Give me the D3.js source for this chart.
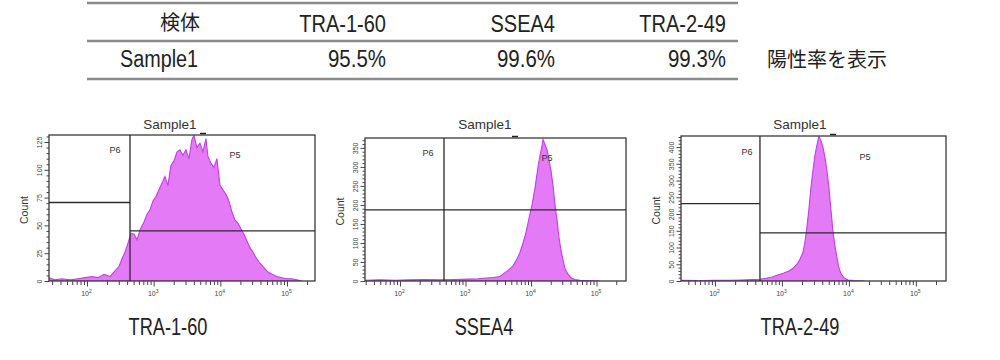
<!DOCTYPE html>
<html>
<head>
<meta charset="utf-8">
<script src="https://cdn.jsdelivr.net/npm/d3@7"></script>
<style>
  html, body { margin: 0; padding: 0; background: #fff; }
  svg { display: block; }
</style>
</head>
<body>
<svg id="chart" width="1000" height="360"></svg>
<script>
// ---------------- DATA ----------------
const headerCols = ["検体", "TRA-1-60", "SSEA4", "TRA-2-49"];
const sampleRow = ["Sample1", "95.5%", "99.6%", "99.3%"];
const noteText = "陽性率を表示";
const markerNames = ["TRA-1-60", "SSEA4", "TRA-2-49"];
const panelTitle = "Sample1";
const gateNames = ["P6", "P5"];

// TRA-1-60 histogram (log10 fluorescence, count)
const tra160Log = [1.430,1.520,1.625,1.745,1.865,1.970,2.075,2.165,2.255,2.345,2.420,2.480,2.525,2.570,2.615,2.660,2.705,2.750,2.795,2.855,2.900,2.945,2.990,3.034,3.079,3.124,3.169,3.214,3.259,3.304,3.349,3.394,3.439,3.484,3.529,3.574,3.604,3.649,3.694,3.739,3.784,3.814,3.859,3.904,3.949,3.994,4.039,4.084,4.129,4.174,4.219,4.264,4.309,4.354,4.399,4.444,4.489,4.534,4.594,4.654,4.714,4.774,4.849,4.924,4.999,5.073,5.148,5.223];
const tra160Count = [3,1,2,1,2,3,4,3,6,4,9,13,20,26,34,43,42,37,46,53,60,64,72,76,82,88,94,86,104,108,116,118,113,118,110,127,131,120,124,116,128,112,106,102,110,86,82,78,72,62,55,52,47,42,36,30,26,21,16,12,8,6,4,3,2,2,1,0];

// SSEA4 histogram
const ssea4Log = [1.466,1.695,1.924,2.153,2.382,2.611,2.840,3.038,3.191,3.313,3.420,3.527,3.603,3.664,3.725,3.786,3.832,3.878,3.924,3.969,4.015,4.061,4.107,4.137,4.168,4.183,4.214,4.244,4.275,4.305,4.336,4.366,4.397,4.427,4.458,4.489,4.519,4.565,4.611,4.672,4.748,4.870,5.053];
const ssea4Count = [2,3,2,3,4,3,4,5,6,8,9,12,22,30,40,58,75,100,128,165,200,245,300,330,355,372,360,345,318,290,250,200,160,115,80,55,32,18,8,4,2,1,0];

// TRA-2-49 histogram
const tra249Log = [1.493,1.776,2.000,2.224,2.403,2.552,2.672,2.761,2.851,2.940,3.030,3.104,3.164,3.224,3.269,3.313,3.343,3.373,3.403,3.433,3.463,3.493,3.522,3.552,3.582,3.612,3.642,3.672,3.701,3.731,3.761,3.791,3.821,3.851,3.881,3.925,3.985,4.090,4.239];
const tra249Count = [2,1,2,2,3,4,5,8,12,18,24,30,38,50,65,85,115,160,215,280,330,375,405,432,420,400,370,330,280,215,150,105,70,40,22,10,3,1,0];

// axis ticks
const tra160YTicks = [0,25,50,75,100,125];
const ssea4YTicks = [0,50,100,150,200,250,300,350];
const tra249YTicks = [0,50,100,150,200,250,300,350,400];
const xDecades = [2,3,4,5];

// gates: threshold (log10), P6 level, P5 level
const tra160Gate = [2.645, 70.6, 45];
const ssea4Gate = [2.672, 187, 187];
const tra249Gate = [2.672, 231, 144];

// ---------------- LAYOUT ----------------
const svg = d3.select("#chart");
const latin = "'Liberation Sans', Arial, sans-serif";
const cjk = "'Noto Sans CJK JP', 'Noto Sans CJK SC', sans-serif";
const textCol = "#222";

function squeeze(sel, factor) {
  sel.each(function() {
    const w = this.getComputedTextLength();
    d3.select(this).attr("textLength", w * factor).attr("lengthAdjust", "spacingAndGlyphs");
  });
}

// ---- table ----
const tableLines = [3, 41, 79];
svg.selectAll("line.tbl").data(tableLines).enter().append("line")
  .attr("x1", 87).attr("x2", 738).attr("y1", d => d).attr("y2", d => d)
  .attr("stroke", "#8a8a8a").attr("stroke-width", 2.5);

const colRight = [null, 386, 555, 726];
// header
svg.append("text").attr("x", 180).attr("y", 30).attr("text-anchor", "middle")
  .attr("font-family", cjk).attr("font-size", 20).attr("fill", textCol).text(headerCols[0]);
headerCols.slice(1).forEach((t, i) => {
  svg.append("text").attr("x", colRight[i + 1]).attr("y", 32).attr("text-anchor", "end")
    .attr("font-family", latin).attr("font-size", 23).attr("fill", textCol).text(t)
    .call(squeeze, 0.87);
});
// row
svg.append("text").attr("x", 120).attr("y", 67).attr("text-anchor", "start")
  .attr("font-family", latin).attr("font-size", 23).attr("fill", textCol).text(sampleRow[0])
  .call(squeeze, 0.86);
sampleRow.slice(1).forEach((t, i) => {
  svg.append("text").attr("x", colRight[i + 1]).attr("y", 67).attr("text-anchor", "end")
    .attr("font-family", latin).attr("font-size", 23).attr("fill", textCol).text(t)
    .call(squeeze, 0.89);
});
svg.append("text").attr("x", 767).attr("y", 67).attr("font-family", cjk).attr("font-size", 20)
  .attr("fill", textCol).text(noteText);

// ---- histogram panels ----
const panels = [
  { name: markerNames[0], log: tra160Log, count: tra160Count, yTicks: tra160YTicks, minorStep: 5,
    gate: tra160Gate, l: 49, r: 315, t: 135, b: 281, xDom: [1.43, 5.42], yMax: 131.3,
    titleX: 170, labelX: 168, p6: [115, 153], p5: [235, 158], dashX: 203 },
  { name: markerNames[1], log: ssea4Log, count: ssea4Count, yTicks: ssea4YTicks, minorStep: 10,
    gate: ssea4Gate, l: 365, r: 626, t: 138, b: 281, xDom: [1.466, 5.45], yMax: 376,
    titleX: 485, labelX: 484, p6: [428, 156], p5: [547, 161], dashX: 515 },
  { name: markerNames[2], log: tra249Log, count: tra249Count, yTicks: tra249YTicks, minorStep: 10,
    gate: tra249Gate, l: 681, r: 946, t: 136, b: 281, xDom: [1.493, 5.45], yMax: 433,
    titleX: 800, labelX: 800, p6: [747, 155], p5: [865, 160], dashX: 833 }
];

panels.forEach((p, pi) => {
  const g = svg.append("g");
  const x = d3.scaleLog().domain([10 ** p.xDom[0], 10 ** p.xDom[1]]).range([p.l, p.r]);
  const y = d3.scaleLinear().domain([0, p.yMax]).range([p.b, p.t]);
  const data = p.log.map((v, i) => ({ v: 10 ** v, c: p.count[i] }));

  const clipId = "clip" + pi;
  g.append("clipPath").attr("id", clipId).append("rect")
    .attr("x", p.l).attr("y", p.t).attr("width", p.r - p.l).attr("height", p.b - p.t);

  const area = d3.area().x(d => x(d.v)).y0(y(0)).y1(d => y(d.c)).curve(d3.curveLinear);
  g.append("path").datum(data).attr("d", area).attr("clip-path", `url(#${clipId})`)
    .attr("fill", "#e47af6").attr("stroke", "#bf3fe6").attr("stroke-width", 1.1);

  // box
  g.append("rect").attr("x", p.l).attr("y", p.t).attr("width", p.r - p.l).attr("height", p.b - p.t)
    .attr("fill", "none").attr("stroke", "#3a3a3a").attr("stroke-width", 1.3);
  g.append("line").attr("x1", p.dashX - 3).attr("x2", p.dashX + 3).attr("y1", p.t - 1.5).attr("y2", p.t - 1.5)
    .attr("stroke", "#222").attr("stroke-width", 1.5);

  // gates
  const gx = x(10 ** p.gate[0]);
  g.append("line").attr("x1", gx).attr("x2", gx).attr("y1", p.t).attr("y2", p.b)
    .attr("stroke", "#2a2a2a").attr("stroke-width", 1.3);
  g.append("line").attr("x1", p.l).attr("x2", gx).attr("y1", y(p.gate[1])).attr("y2", y(p.gate[1]))
    .attr("stroke", "#2a2a2a").attr("stroke-width", 1.3);
  g.append("line").attr("x1", gx).attr("x2", p.r).attr("y1", y(p.gate[2])).attr("y2", y(p.gate[2]))
    .attr("stroke", "#2a2a2a").attr("stroke-width", 1.3);
  g.append("text").attr("x", p.p6[0]).attr("y", p.p6[1]).attr("font-family", latin).attr("font-size", 9)
    .attr("fill", "#333").attr("text-anchor", "middle").text(gateNames[0]);
  g.append("text").attr("x", p.p5[0]).attr("y", p.p5[1]).attr("font-family", latin).attr("font-size", 9)
    .attr("fill", "#333").attr("text-anchor", "middle").text(gateNames[1]);

  // y axis
  const yMinor = d3.range(0, p.yMax, p.minorStep).filter(v => !p.yTicks.includes(v));
  const yMinorAxis = g.append("g").attr("transform", `translate(${p.l},0)`)
    .call(d3.axisLeft(y).tickValues(yMinor).tickSize(2.5).tickFormat(""));
  const yAxis = g.append("g").attr("transform", `translate(${p.l},0)`)
    .call(d3.axisLeft(y).tickValues(p.yTicks).tickSize(4.5).tickPadding(2));
  [yMinorAxis, yAxis].forEach(a => {
    a.select(".domain").remove();
    a.selectAll("line").attr("stroke", "#444").attr("stroke-width", 1);
  });
  yAxis.selectAll("text")
    .attr("font-family", latin).attr("font-size", 7).attr("fill", "#444")
    .attr("text-anchor", "middle").attr("dy", null)
    .attr("x", null)
    .attr("transform", d => `translate(-9,0) rotate(-90)`)
    .attr("y", 0).attr("dy", "0.35em");
  g.append("text").attr("transform", `translate(${p.l - 21},${(p.t + p.b) / 2 + 2}) rotate(-90)`)
    .attr("text-anchor", "middle").attr("font-family", latin).attr("font-size", 10.5)
    .attr("fill", "#333").text("Count");

  // x axis
  const lo = p.xDom[0], hi = p.xDom[1];
  const xMinor = [];
  for (let d = 1; d <= 5; d++) for (let m = 2; m <= 9; m++) {
    const v = m * 10 ** d;
    if (Math.log10(v) > lo && Math.log10(v) < hi) xMinor.push(v);
  }
  const xMajor = xDecades.map(d => 10 ** d);
  const xMinorAxis = g.append("g").attr("transform", `translate(0,${p.b})`)
    .call(d3.axisBottom(x).tickValues(xMinor).tickSize(4).tickFormat(""));
  const xAxis = g.append("g").attr("transform", `translate(0,${p.b})`)
    .call(d3.axisBottom(x).tickValues(xMajor).tickSize(5.5).tickFormat(""));
  [xMinorAxis, xAxis].forEach(a => {
    a.select(".domain").remove();
    a.selectAll("line").attr("stroke", "#444").attr("stroke-width", 1);
  });
  xAxis.selectAll(".tick").append("text")
    .attr("y", 15).attr("x", -1).attr("text-anchor", "middle")
    .attr("font-family", latin).attr("font-size", 7).attr("fill", "#444")
    .each(function(d, i) {
      const t = d3.select(this);
      t.append("tspan").text("10");
      t.append("tspan").attr("dy", -3).attr("font-size", 5).text(xDecades[i]);
    });

  // title & label
  g.append("text").attr("x", p.titleX).attr("y", 129).attr("text-anchor", "middle")
    .attr("font-family", latin).attr("font-size", 13.5).attr("fill", "#333").text(panelTitle);
  g.append("text").attr("x", p.labelX).attr("y", 335).attr("text-anchor", "middle")
    .attr("font-family", latin).attr("font-size", 23).attr("fill", textCol).text(p.name)
    .call(squeeze, 0.79);
});
</script>
</body>
</html>
